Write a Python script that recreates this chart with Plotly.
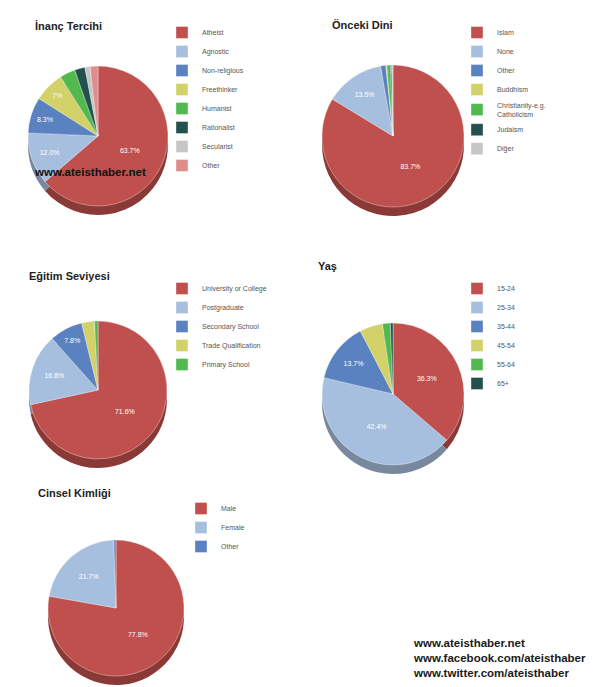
import plotly.graph_objects as go

W, H = 600, 687

# ---- data ----
inanc_labels = ["Atheist", "Agnostic", "Non-religious", "Freethinker", "Humanist", "Rationalist", "Secularist", "Other"]
inanc_values = [63.7, 12.0, 8.3, 7, 3.6, 2.4, 1.2, 1.8]

onceki_labels = ["Islam", "None", "Other", "Buddhism", "Christianity-e.g.<br>Catholicism", "Judaism", "Diğer"]
onceki_values = [83.7, 13.5, 1.2, 0.2, 0.8, 0.3, 0.3]

egitim_labels = ["University or College", "Postgraduate", "Secondary School", "Trade Qualification", "Primary School"]
egitim_values = [71.6, 16.8, 7.8, 3.0, 0.8]

yas_labels = ["15-24", "25-34", "35-44", "45-54", "55-64", "65+"]
yas_values = [36.3, 42.4, 13.7, 5.2, 1.8, 0.6]

cinsel_labels = ["Male", "Female", "Other"]
cinsel_values = [77.8, 21.7, 0.5]

PALETTE = ["#C0504D", "#A7BFDE", "#5A82C0", "#D2D16A", "#52B94F", "#22514E", "#C6C6C6", "#E08C8C"]


def darker(hexc, f=0.72):
    h = hexc.lstrip("#")
    r, g, b = (int(h[i:i + 2], 16) for i in (0, 2, 4))
    return "rgb(%d,%d,%d)" % (r * f, g * f, b * f)


charts = [
    # title, labels, values, pie centre (px), radius, title pos, legend pos
    ("İnanç Tercihi", inanc_labels, inanc_values, (90, 128), 70, (25, 18), (154, 10)),
    ("Önceki Dini", onceki_labels, onceki_values, (385, 128), 71, (322, 17), (449, 10)),
    ("Eğitim Seviyesi", egitim_labels, egitim_values, (90, 382), 69, (19, 268), (154, 266)),
    ("Yaş", yas_labels, yas_values, (385, 386), 71, (308, 258), (449, 266)),
    ("Cinsel Kimliği", cinsel_labels, cinsel_values, (108, 600), 68, (28, 485), (173, 486)),
]

fig = go.Figure()
annotations = []
layout_legends = {}
DEPTH = 9

for i, (title, labels, values, (cx, cy), r, (tx, ty), (lx, ly)) in enumerate(charts):
    colors = PALETTE[:len(values)]
    # zero-width suffix keeps identical labels ("Other") separate per legend
    uniq = [lab + "\u200b" * i for lab in labels]
    dom_x = [(cx - r) / W, (cx + r) / W]
    shadow_y = [1 - (cy + r + DEPTH) / H, 1 - (cy - r + DEPTH) / H]
    main_y = [1 - (cy + r) / H, 1 - (cy - r) / H]
    legend_name = "legend" if i == 0 else "legend%d" % (i + 1)
    # depth (shadow) pie
    fig.add_trace(go.Pie(
        labels=uniq, values=values, sort=False, direction="clockwise",
        domain=dict(x=dom_x, y=shadow_y),
        marker=dict(colors=[darker(c) for c in colors], line=dict(width=0)),
        textinfo="none", hoverinfo="skip", showlegend=False,
    ))
    texts = [(f"{v}%" if v >= 6 else "") for v in values]
    fig.add_trace(go.Pie(
        labels=uniq, values=values, sort=False, direction="clockwise",
        domain=dict(x=dom_x, y=main_y),
        marker=dict(colors=colors, line=dict(color="rgba(255,255,255,0.6)", width=0.6)),
        text=texts, textinfo="text", textposition="inside",
        insidetextorientation="horizontal",
        textfont=dict(color="white", size=7, family="Liberation Sans"),
        legend=legend_name, showlegend=True,
    ))
    layout_legends[legend_name] = dict(
        x=lx / W, y=1 - ly / H, xanchor="left", yanchor="top",
        font=dict(size=7, color="#555555", family="Liberation Sans"),
        bgcolor="rgba(0,0,0,0)", itemclick=False, itemdoubleclick=False,
    )
    annotations.append(dict(
        text="<b>%s</b>" % title, x=tx / W, y=1 - ty / H, xref="paper", yref="paper",
        xanchor="left", yanchor="middle", showarrow=False,
        font=dict(size=11, color="#222222", family="Liberation Sans"),
    ))

# watermark on first pie
annotations.append(dict(
    text="<b>www.ateisthaber.net</b>", x=82 / W, y=1 - 164 / H, xref="paper", yref="paper",
    xanchor="center", yanchor="middle", showarrow=False,
    font=dict(size=11.5, color="#111111", family="Liberation Sans"),
))

# footer
footer_lines = ["www.ateisthaber.net", "www.facebook.com/ateisthaber", "www.twitter.com/ateisthaber"]
annotations.append(dict(
    text="<b>" + "<br>".join(footer_lines) + "</b>", x=403 / W, y=1 - 650 / H,
    xref="paper", yref="paper", xanchor="left", yanchor="middle", align="left",
    showarrow=False, font=dict(size=11.5, color="#1a1a1a", family="Liberation Sans"),
))

fig.update_layout(
    width=W, height=H, margin=dict(l=0, r=0, t=0, b=0),
    paper_bgcolor="white", plot_bgcolor="white",
    annotations=annotations, **layout_legends,
)

fig.write_html("out.html")
